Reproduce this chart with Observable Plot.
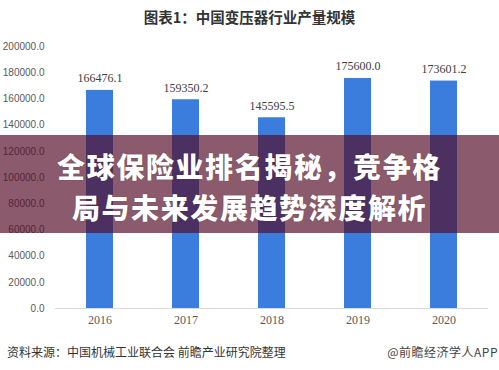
<!DOCTYPE html>
<html>
<head>
<meta charset="utf-8">
<script src="https://cdn.jsdelivr.net/npm/d3@7"></script>
<script src="https://cdn.jsdelivr.net/npm/@observablehq/plot@0.6"></script>
<style>
  html, body { margin: 0; padding: 0; background: #fff; }
  #wrap { position: relative; width: 499px; height: 370px; overflow: hidden; background: #fff; }
  #title { position: absolute; left: 0; width: 499px; top: 8px; text-align: center;
    font-family: "Noto Sans CJK SC", sans-serif; font-weight: 700; font-size: 14.5px; color: #333; line-height: 18px; }
  #chart { position: absolute; left: 0; top: 0; }
  #source { position: absolute; left: 7px; top: 344px; font-family: "Noto Sans CJK SC", sans-serif;
    font-size: 12px; color: #333; line-height: 16px; }
  #brand { position: absolute; right: 1px; top: 344px; font-family: "Noto Sans CJK SC", sans-serif;
    font-size: 12px; color: #444; line-height: 16px; letter-spacing: 0.5px; }
  #band { position: absolute; left: 0; top: 135px; width: 499px; height: 98px;
    background: rgba(84, 12, 39, 0.68); }
  #band div { position: absolute; left: 0; width: 499px; text-align: center; color: #fff;
    font-family: "Noto Sans CJK SC", sans-serif; font-weight: 900; font-size: 28px; line-height: 34px;
    letter-spacing: 1.6px; text-shadow: 0 0 1px rgba(0,0,0,0.4); }
</style>
</head>
<body>
<div id="wrap">
  <div id="chart"></div>
  <div id="title"></div>
  <div id="band"><div id="l1" style="top:14px"></div><div id="l2" style="top:55px"></div></div>
  <div id="source"></div>
  <div id="brand"></div>
</div>
<script>
const titleText = "图表1：中国变压器行业产量规模";
const years = ["2016", "2017", "2018", "2019", "2020"];
const values = [166476.1, 159350.2, 145595.5, 175600.0, 173601.2];
const yTicks = [0, 20000, 40000, 60000, 80000, 100000, 120000, 140000, 160000, 180000, 200000];
const bannerLine1 = "全球保险业排名揭秘，竞争格";
const bannerLine2 = "局与未来发展趋势深度解析";
const sourceText = "资料来源：中国机械工业联合会 前瞻产业研究院整理";
const brandText = "@前瞻经济学人APP";

const data = years.map((y, i) => ({year: y, value: values[i]}));

const chart = Plot.plot({
  width: 499,
  height: 370,
  marginLeft: 55,
  marginRight: 11,
  marginTop: 46,
  marginBottom: 62,
  style: {background: "transparent"},
  x: {domain: years, paddingInner: 0.69, paddingOuter: 0.345, label: null},
  y: {domain: [0, 200000], label: null},
  marks: [
    Plot.barY(data, {x: "year", y: "value", fill: "#3b7ddd"}),
    Plot.ruleY([0], {stroke: "#d9d9d9", strokeWidth: 1}),
    Plot.text(data, {x: "year", y: "value", text: d => d3.format(".1f")(d.value), dy: -12,
      fontFamily: "Liberation Serif, serif", fontSize: 12, fill: "#404040"}),
    Plot.axisY({ticks: yTicks, tickFormat: d3.format(".1f"), tickSize: 0, tickPadding: 11,
      fontFamily: "Liberation Sans, sans-serif", fontSize: 10, color: "#595959", label: null}),
    Plot.axisX({tickSize: 0, tickPadding: 7, fontFamily: "Liberation Serif, serif", fontSize: 12,
      color: "#595959", label: null})
  ]
});
document.getElementById("chart").appendChild(chart);
document.getElementById("title").textContent = titleText;
document.getElementById("l1").textContent = bannerLine1;
document.getElementById("l2").textContent = bannerLine2;
document.getElementById("source").textContent = sourceText;
document.getElementById("brand").textContent = brandText;
</script>
</body>
</html>
